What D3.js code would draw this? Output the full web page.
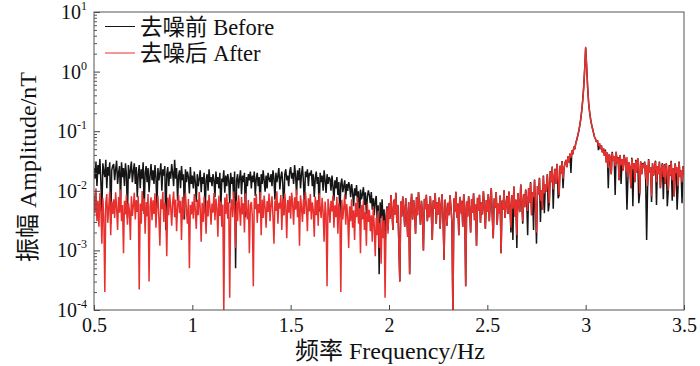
<!DOCTYPE html>
<html><head><meta charset="utf-8">
<script src="https://cdn.jsdelivr.net/npm/d3@7"></script>
<style>body{margin:0;background:#fff}svg{display:block}</style>
</head><body><svg id="c" width="700" height="366"></svg>
<script>
// Frequency grid (Hz): start and step of the spectrum samples
const freqStart = 0.5, freqStep = 0.005;

// 去噪前 Before (amplitude, nT)
const before = [
.024,.016,.031,.012,.027,.019,.034,.014,.0045,.029,.021,.017,.033,.011,.025,.018,.030,.0028,.022,.026,
.028,.015,.023,.032,.013,.020,.026,.0062,.030,.017,.024,.012,.029,.019,.0035,.027,.016,.022,.031,.014,
.021,.029,.013,.025,.0078,.019,.027,.011,.023,.016,.030,.0041,.020,.026,.014,.024,.0095,.018,.028,.015,
.022,.013,.027,.017,.0052,.024,.015,.020,.029,.010,.023,.018,.026,.0022,.019,.025,.012,.021,.016,.028,
.020,.012,.033,.016,.024,.0068,.018,.022,.011,.026,.015,.019,.0033,.023,.014,.021,.017,.009,.025,.013,
.018,.011,.021,.014,.0065,.019,.012,.016,.022,.0095,.017,.013,.020,.0042,.015,.019,.010,.023,.014,.017,
.012,.019,.015,.0078,.021,.013,.017,.011,.020,.0052,.016,.014,.022,.0093,.018,.012,.019,.015,.0062,.020,
.013,.017,.0075,.021,.0005,.015,.019,.011,.016,.022,.0088,.018,.014,.020,.0036,.017,.012,.019,.015,.021,
.011,.018,.014,.021,.0082,.016,.020,.012,.017,.0048,.019,.013,.022,.015,.0097,.018,.011,.020,.016,.014,
.019,.012,.022,.016,.0071,.020,.014,.018,.024,.0105,.017,.021,.013,.0039,.019,.023,.015,.018,.012,.021,
.025,.016,.020,.013,.027,.018,.0085,.022,.015,.024,.011,.019,.026,.014,.0054,.021,.017,.023,.012,.020,
.018,.022,.012,.019,.0079,.016,.021,.013,.017,.0045,.020,.014,.018,.010,.022,.015,.0092,.019,.013,.017,
.016,.010,.018,.012,.0068,.015,.011,.017,.0085,.014,.0036,.013,.016,.0095,.012,.015,.0072,.013,.010,.014,
.012,.0078,.013,.0092,.0055,.011,.0083,.0125,.0066,.0098,.0029,.0105,.0072,.0088,.0115,.0058,.0094,.0041,.0079,.0102,
.0085,.0062,.0095,.0048,.0075,.0039,.0068,.0082,.0031,.0057,.0004,.0064,.0035,.0072,.0026,.0049,.0012,.0038,.0055,.0022,
.0062,.0034,.0085,.0045,.0022,.0071,.0040,.0093,.0029,.0058,.0013,.0003,.0066,.0037,.0080,.0048,.0025,.0075,.0042,.0017,
.0064,.0004,.0052,.0089,.0033,.0070,.0046,.0019,.0078,.0039,.0095,.0055,.0027,.0068,.0041,.0010,.0073,.0049,.0086,.0031,
.0060,.0036,.0082,.0044,.0015,.0069,.0050,.0092,.0028,.0065,.0040,.0077,.0023,.0057,.0087,.0034,.0007,.0071,.0047,.0026,
.0063,.0039,.0084,.0053,.0030,.00008,.0074,.0045,.0096,.0035,.0061,.0018,.0079,.0042,.0068,.0025,.0088,.0051,.00025,.0066,
.0037,.0081,.0048,.0020,.0072,.0043,.0091,.0032,.0059,.0012,.0076,.0046,.0086,.0029,.0064,.0040,.0098,.0055,.0023,.0070,
.0044,.0088,.0031,.0066,.0110,.0039,.0016,.0074,.0052,.0095,.0027,.0061,.0042,.0083,.0009,.0069,.0048,.0102,.0035,.0058,
.0082,.0041,.0097,.0056,.0020,.0085,.0015,.0118,.0037,.0071,.0011,.0092,.0060,.0044,.0128,.0066,.0028,.0088,.0053,.0105,
.0075,.0018,.0110,.0063,.0140,.0039,.0094,.0022,.0155,.0055,.0013,.0120,.0085,.0165,.0030,.0102,.0048,.0180,.0042,.0128,
.0098,.0190,.0045,.0062,.0215,.0140,.0255,.0050,.0170,.0235,.0130,.0285,.0075,.0085,.0265,.0195,.0315,.0110,.0240,.0290,
.0330,.0250,.0380,.0300,.0420,.0200,.0480,.0410,.0550,.0500,.0640,.0720,.0850,.1000,.1250,.1600,.2200,.3300,.5500,1.100,
2.5,1.2,.55,.30,.21,.16,.13,.11,.094,.080,.074,.066,.070,.048,.063,.050,.058,.044,.052,.039,
.049,.030,.044,.011,.041,.035,.019,.045,.032,.038,.0085,.045,.029,.037,.015,.040,.013,.034,.022,.040,
.034,.021,.0048,.017,.030,.025,.011,.036,.0055,.029,.014,.033,.020,.035,.0062,.009,.031,.019,.029,.024,
.031,.016,.0015,.012,.034,.020,.025,.0065,.029,.018,.024,.032,.0058,.026,.019,.031,.011,.023,.029,.0072,
.028,.013,.029,.0055,.010,.027,.018,.032,.0068,.024,.008,.029,.020,.0048,.012,.031,.017,.022,.0062,.026,.019
];

// 去噪后 After (amplitude, nT)
const after = [
.0085,.0042,.011,.0031,.0068,.0025,.0092,.0048,.0013,.0075,.0036,.0002,.0063,.0088,.0029,.0054,.0097,.0018,.0066,.0041,
.0072,.0035,.0094,.0051,.0022,.0079,.0043,.0105,.0031,.0058,.0009,.0068,.0040,.0086,.0027,.0062,.0047,.0015,.0081,.0038,
.0056,.0093,.0033,.0070,.0044,.0082,.00022,.0061,.0028,.0099,.0046,.0074,.0019,.0065,.0037,.0088,.0003,.0053,.0078,.0032,
.0069,.0041,.0091,.0024,.0058,.0083,.0035,.0012,.0072,.0049,.0096,.0030,.0063,.0045,.0008,.0077,.0039,.0087,.0054,.0026,
.0064,.0097,.0036,.0071,.0021,.0055,.0085,.0042,.0068,.0015,.0079,.0033,.0060,.0092,.0047,.0028,.0073,.0005,.0058,.0040,
.0066,.0034,.0088,.0047,.0023,.0071,.0039,.0095,.0052,.0014,.0063,.0030,.0080,.0045,.0019,.0069,.0037,.0086,.0054,.0027,
.0061,.0043,.0092,.0032,.0074,.0050,.0017,.0083,.0038,.0066,.0025,.0059,.00008,.0077,.0041,.0089,.0034,.0064,.00016,.0048,
.0072,.0036,.0097,.0045,.0011,.0068,.0031,.0084,.0053,.0026,.0079,.0040,.0062,.0020,.0091,.0047,.0033,.0070,.0009,.0057,
.0065,.0038,.00025,.0076,.0049,.0088,.0029,.0060,.0042,.0095,.0018,.0071,.0035,.0083,.0052,.0024,.0067,.0044,.0090,.0031,
.0058,.0081,.0037,.0013,.0069,.0046,.0098,.0028,.0063,.0050,.0085,.0022,.0074,.0039,.0091,.0055,.0016,.0070,.0043,.0082,
.0034,.0093,.0061,.0027,.0078,.0048,.0105,.0036,.0067,.0012,.0084,.0053,.0030,.0072,.0041,.0096,.0058,.0021,.0075,.0045,
.0088,.0033,.0064,.0047,.0017,.0080,.0039,.0070,.0026,.0091,.0052,.0035,.0076,.0044,.0014,.0066,.0040,.00025,.0073,.0050,
.0029,.0068,.0045,.0083,.0024,.0057,.0036,.0079,.0019,.0062,.0042,.0002,.0071,.0033,.0052,.0087,.0027,.0060,.0038,.0011,
.0055,.0031,.0072,.0024,.0047,.0015,.0063,.0036,.0078,.0028,.0051,.0009,.0058,.0033,.0069,.0022,.0044,.0012,.0060,.0030,
.0048,.0021,.0039,.0014,.0055,.0026,.0008,.0035,.0018,.0046,.0011,.0029,.0006,.0038,.0016,.0032,.00016,.0025,.0052,.0019,
.0062,.0034,.0085,.0045,.0022,.0071,.0040,.0093,.0029,.0058,.0013,.0003,.0066,.0037,.0080,.0048,.0025,.0075,.0042,.0017,
.0064,.0004,.0052,.0089,.0033,.0070,.0046,.0019,.0078,.0039,.0095,.0055,.0027,.0068,.0041,.0010,.0073,.0049,.0086,.0031,
.0060,.0036,.0082,.0044,.0015,.0069,.0050,.0092,.0028,.0065,.0040,.0077,.0023,.0057,.0087,.0034,.0007,.0071,.0047,.0026,
.0063,.0039,.0084,.0053,.0030,.00008,.0074,.0045,.0096,.0035,.0061,.0018,.0079,.0042,.0068,.0025,.0088,.0051,.00025,.0066,
.0037,.0081,.0048,.0020,.0072,.0043,.0091,.0032,.0059,.0012,.0076,.0046,.0086,.0029,.0064,.0040,.0098,.0055,.0023,.0070,
.0044,.0088,.0031,.0066,.0110,.0039,.0016,.0074,.0052,.0095,.0027,.0061,.0042,.0083,.0009,.0069,.0048,.0102,.0035,.0058,
.0079,.0041,.0097,.0056,.0024,.0085,.0050,.0118,.0037,.0071,.0018,.0092,.0060,.0044,.0125,.0066,.0031,.0088,.0053,.0105,
.0072,.0046,.0110,.0063,.0135,.0039,.0094,.0078,.0150,.0055,.0020,.0120,.0085,.0160,.0068,.0102,.0048,.0175,.0090,.0128,
.0098,.0185,.0120,.0062,.0210,.0140,.0250,.0105,.0170,.0230,.0130,.0280,.0150,.0085,.0260,.0195,.0310,.0160,.0240,.0290,
.0330,.0250,.0380,.0300,.0420,.0360,.0480,.0410,.0550,.0500,.0640,.0720,.0850,.1000,.1250,.1600,.2200,.3300,.5500,1.100,
2.6,1.2,.55,.30,.21,.16,.13,.11,.094,.080,.074,.066,.070,.057,.063,.050,.058,.044,.052,.039,
.047,.030,.044,.024,.041,.035,.019,.043,.032,.038,.026,.045,.029,.036,.015,.040,.027,.034,.022,.039,
.033,.021,.037,.017,.030,.025,.011,.034,.023,.029,.014,.032,.020,.035,.026,.009,.031,.019,.028,.024,
.030,.016,.027,.012,.033,.020,.025,.008,.029,.018,.024,.031,.014,.026,.019,.030,.011,.023,.028,.017,
.027,.013,.029,.021,.010,.026,.018,.031,.015,.024,.008,.028,.020,.025,.012,.030,.017,.022,.014,.026,.019
];

const xTicks = [0.5, 1, 1.5, 2, 2.5, 3, 3.5];
const xTickLabels = ["0.5", "1", "1.5", "2", "2.5", "3", "3.5"];
const yTicks = [1e-4, 1e-3, 1e-2, 1e-1, 1e0, 1e1];
const yTickExps = ["-4", "-3", "-2", "-1", "0", "1"];
const seriesNames = ["去噪前 Before", "去噪后 After"];
const seriesColors = ["#151515", "#e8302e"];
const xTitle = "频率 Frequency/Hz";
const yTitle = "振幅 Amplitude/nT";

const FONT = "'Liberation Serif','Times New Roman','Noto Sans CJK SC',serif";
const L = 94, R = 684, T = 12, B = 310;

const svg = d3.select("#c");
const x = d3.scaleLinear().domain([0.5, 3.5]).range([L, R]);
const y = d3.scaleLog().domain([1e-4, 10]).range([B, T]);

svg.append("defs").append("clipPath").attr("id", "clip")
  .append("rect").attr("x", L).attr("y", T).attr("width", R - L).attr("height", B - T);

const line = d3.line()
  .x((d, i) => x(freqStart + i * freqStep))
  .y(d => y(d));

const plot = svg.append("g").attr("clip-path", "url(#clip)");
[before, after].forEach((s, k) => {
  plot.append("path").datum(s).attr("d", line)
    .attr("fill", "none").attr("stroke", seriesColors[k])
    .attr("stroke-width", 1.5).attr("stroke-linejoin", "miter").attr("stroke-miterlimit", 2);
});

// x axis (inward ticks)
const xAxis = d3.axisBottom(x).tickValues(xTicks)
  .tickFormat((d, i) => xTickLabels[i]).tickSizeInner(-5).tickSizeOuter(0).tickPadding(8);
const gx = svg.append("g").attr("transform", `translate(0,${B})`).call(xAxis);
gx.select(".domain").remove();
gx.selectAll("line").attr("stroke", "#444");
gx.selectAll("text").attr("font-family", FONT).attr("font-size", 20).attr("fill", "#111");

// y axis major and minor ticks (inward)
const minor = y.ticks().filter(v => !yTicks.some(t => Math.abs(t - v) / t < 1e-9));
const gyMinor = svg.append("g").attr("transform", `translate(${L},0)`)
  .call(d3.axisLeft(y).tickValues(minor).tickFormat("").tickSizeInner(-3).tickSizeOuter(0));
gyMinor.select(".domain").remove();
gyMinor.selectAll("line").attr("stroke", "#555");
const gy = svg.append("g").attr("transform", `translate(${L},0)`)
  .call(d3.axisLeft(y).tickValues(yTicks).tickFormat("").tickSizeInner(-6).tickSizeOuter(0));
gy.select(".domain").remove();
gy.selectAll("line").attr("stroke", "#444");

yTicks.forEach((t, i) => {
  const tx = svg.append("text").attr("x", 87).attr("y", y(t) + 7)
    .attr("text-anchor", "end").attr("font-family", FONT).attr("font-size", 20).attr("fill", "#111");
  tx.append("tspan").text("10");
  tx.append("tspan").attr("dy", -9).attr("font-size", 12).text(yTickExps[i]);
});

// frame
svg.append("rect").attr("x", L).attr("y", T).attr("width", R - L).attr("height", B - T)
  .attr("fill", "none").attr("stroke", "#555").attr("stroke-width", 1);

// legend
seriesNames.forEach((name, k) => {
  const ly = 26.5 + k * 26.5;
  svg.append("line").attr("x1", 105).attr("x2", 135).attr("y1", ly).attr("y2", ly)
    .attr("stroke", seriesColors[k]).attr("stroke-width", 1);
  svg.append("text").attr("x", 140).attr("y", ly + 8)
    .attr("font-family", FONT).attr("font-size", 22.5).attr("fill", "#111").text(name);
});

// axis titles
svg.append("text").attr("x", 390).attr("y", 359).attr("text-anchor", "middle")
  .attr("font-family", FONT).attr("font-size", 24).attr("fill", "#111").text(xTitle);
svg.append("text").attr("transform", "translate(36,167) rotate(-90)").attr("text-anchor", "middle")
  .attr("font-family", FONT).attr("font-size", 24).attr("fill", "#111").text(yTitle);
</script>
</body></html>
